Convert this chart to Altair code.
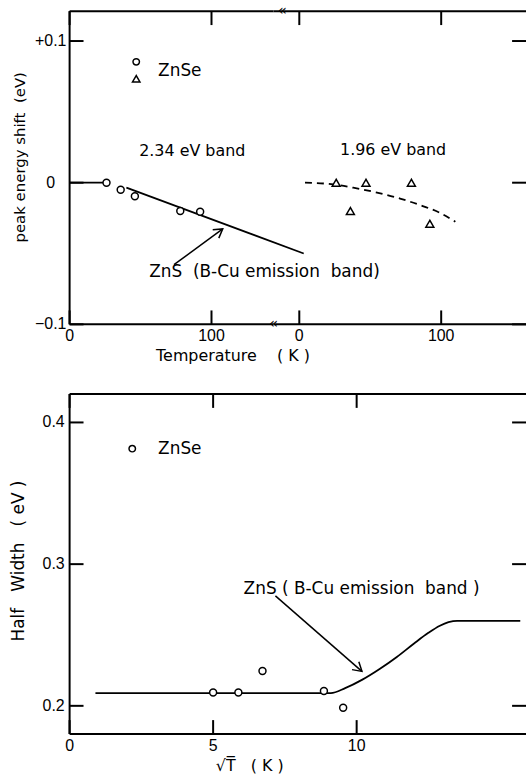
import altair as alt
import pandas as pd

# ---------------- data ----------------
# Upper panel: 2.34 eV band of ZnSe (circles), peak energy shift vs T
band234_T = [26, 36, 46, 78, 92]
band234_shift = [0.0, -0.005, -0.0095, -0.020, -0.0205]
# ZnS (B-Cu emission band) solid line, two pieces
zns_T = [0, 26, 40, 165]
zns_shift = [0.0, 0.0, -0.0035, -0.050]
zns_piece = ["p1", "p1", "p2", "p2"]
# 1.96 eV band of ZnSe (triangles)
band196_T = [26, 36, 47, 79, 92]
band196_shift = [0.0, -0.020, 0.0, 0.0, -0.029]
# dashed guide through the 1.96 eV band
guide196_T = [4, 24, 38, 54, 71, 87, 99, 110]
guide196_shift = [0.0, -0.0012, -0.0035, -0.0068, -0.0112, -0.0165, -0.0212, -0.0276]

# Lower panel: half width vs sqrt(T)
hw_sqrtT = [5.0, 5.88, 6.72, 8.86, 9.53]
hw_eV = [0.2094, 0.2094, 0.2246, 0.2105, 0.1986]
# ZnS (B-Cu emission band) curve
znshw_sqrtT = [0.9, 9.1, 9.6, 10.2, 10.8, 11.4, 12.0, 12.5, 12.9, 13.2, 13.5, 15.7]
znshw_eV = [0.209, 0.209, 0.2125, 0.2185, 0.226, 0.2345, 0.244, 0.2515, 0.2565, 0.259, 0.26, 0.26]

# tick values / labels
top_y_values = [0.1, 0.0, -0.1]
top_y_labels = ["+0.1", "0", "\u22120.1"]
top_x_values = [0, 100]
top_x_labels = ["0", "100"]
bot_y_values = [0.2, 0.3, 0.4]
bot_y_labels = ["0.2", "0.3", "0.4"]
bot_x_values = [0, 5, 10]
bot_x_labels = ["0", "5", "10"]

# ---------------- layout / style ----------------
FONT = "DejaVu Sans"
TFONT = "Liberation Sans"
NB = "\u00a0"
TICK = 14
PX_PER_K = 1.427
WL, WR, HT = 205, 254, 315
WB, HB = 459, 342
ZERO2 = 26  # px from the axis break to the second zero

xL_scale = alt.Scale(domain=[0, WL / PX_PER_K], nice=False, zero=False)
xR_scale = alt.Scale(domain=[-ZERO2 / PX_PER_K, (WR - ZERO2) / PX_PER_K], nice=False, zero=False)
yT_scale = alt.Scale(domain=[-0.1, 0.1211], nice=False, zero=False)
xB_scale = alt.Scale(domain=[0, 15.9], nice=False, zero=False)
yB_scale = alt.Scale(domain=[0.1801, 0.4201], nice=False, zero=False)

one = pd.DataFrame({"k": [0]})


def hrule(y, x1, x2, w=2):
    return alt.Chart(one).mark_rule(color="black", strokeWidth=w).encode(
        y=alt.value(y), x=alt.value(x1), x2=alt.value(x2))


def vrule(x, y1, y2, w=2):
    return alt.Chart(one).mark_rule(color="black", strokeWidth=w).encode(
        x=alt.value(x), y=alt.value(y1), y2=alt.value(y2))


def yticks(values, scale, x1, x2):
    return alt.Chart(pd.DataFrame({"v": values})).mark_rule(color="black", strokeWidth=2).encode(
        y=alt.Y("v:Q", scale=scale, axis=None), x=alt.value(x1), x2=alt.value(x2))


def xticks(values, scale, y1, y2):
    return alt.Chart(pd.DataFrame({"v": values})).mark_rule(color="black", strokeWidth=2).encode(
        x=alt.X("v:Q", scale=scale, axis=None), y=alt.value(y1), y2=alt.value(y2))


def xlabels(values, labels, scale, y):
    return alt.Chart(pd.DataFrame({"v": values, "lab": labels})).mark_text(
        font=TFONT, fontSize=16, align="center", baseline="middle", color="black").encode(
        x=alt.X("v:Q", scale=scale, axis=None), y=alt.value(y), text="lab:N")


def ylabels(values, labels, scale, x, align):
    return alt.Chart(pd.DataFrame({"v": values, "lab": labels})).mark_text(
        font=TFONT, fontSize=16, align=align, baseline="middle", color="black").encode(
        y=alt.Y("v:Q", scale=scale, axis=None), x=alt.value(x), text="lab:N")


def text(s, x, y, size=17, align="left", angle=0, font=FONT):
    return alt.Chart(one).mark_text(text=s, align=align, baseline="middle", font=font,
                                    fontSize=size, color="black", angle=angle).encode(
        x=alt.value(x), y=alt.value(y))


def arrow(x1, y1, x2, y2, ang):
    shaft = alt.Chart(one).mark_rule(color="black", strokeWidth=1.5).encode(
        x=alt.value(x1), y=alt.value(y1), x2=alt.value(x2), y2=alt.value(y2))
    head = alt.Chart(one).mark_point(shape="M -1 -0.6 L 0 0 L -1 0.6", angle=ang, size=300,
                                     filled=False, stroke="black", strokeWidth=1.5,
                                     opacity=1).encode(x=alt.value(x2), y=alt.value(y2))
    return shaft + head


def symbol(shape, x, y, size):
    return alt.Chart(one).mark_point(shape=shape, filled=True, fill="white", stroke="black",
                                     strokeWidth=1.5, size=size, opacity=1).encode(
        x=alt.value(x), y=alt.value(y))


# ---------------- upper panel, left part (2.34 eV band) ----------------
df234 = pd.DataFrame({"T": band234_T, "shift": band234_shift})
dfzns = pd.DataFrame({"T": zns_T, "shift": zns_shift, "piece": zns_piece})

zns_line = alt.Chart(dfzns).mark_line(color="black", strokeWidth=1.8).encode(
    x=alt.X("T:Q", scale=xL_scale, axis=None),
    y=alt.Y("shift:Q", scale=yT_scale, axis=None),
    detail="piece:N")
circ234 = alt.Chart(df234).mark_point(shape="circle", filled=True, fill="white", stroke="black",
                                      strokeWidth=1.5, size=49, opacity=1).encode(
    x=alt.X("T:Q", scale=xL_scale, axis=None),
    y=alt.Y("shift:Q", scale=yT_scale, axis=None))

top_left = alt.layer(
    vrule(0, 0, HT), hrule(0, 0, WL), hrule(HT, 0, WL),
    yticks(top_y_values, yT_scale, 0, TICK),
    xticks(top_x_values, xL_scale, 0, TICK),
    xticks(top_x_values, xL_scale, HT - TICK, HT),
    ylabels(top_y_values, top_y_labels, yT_scale, -19, "center"),
    xlabels(top_x_values, top_x_labels, xL_scale, HT + 12),
    zns_line, circ234,
    symbol("circle", 67, 51, 42), symbol("triangle-up", 67, 68, 56),
    text("ZnSe", 89, 60),
    text("2.34 eV band", 70, 141, size=16),
    text(f"ZnS{NB}{NB}(B-Cu emission{NB}{NB}band)", 80, 262),
    arrow(105, 255, 154, 219, 324),
    text(f"Temperature{NB}{NB}{NB}{NB}({NB}K{NB})", 87, 347, size=16),
    text(f"peak energy shift{NB}{NB}(eV)", -50, 147, size=15, angle=270, align="center"),
).properties(width=WL, height=HT)

# ---------------- upper panel, right part (1.96 eV band) ----------------
df196 = pd.DataFrame({"T": band196_T, "shift": band196_shift})
dfg = pd.DataFrame({"T": guide196_T, "shift": guide196_shift})

guide = alt.Chart(dfg).mark_line(color="black", strokeWidth=1.8, strokeDash=[7, 5],
                                 interpolate="monotone").encode(
    x=alt.X("T:Q", scale=xR_scale, axis=None),
    y=alt.Y("shift:Q", scale=yT_scale, axis=None))
tri196 = alt.Chart(df196).mark_point(shape="triangle-up", filled=True, fill="white",
                                     stroke="black", strokeWidth=1.5, size=64, opacity=1).encode(
    x=alt.X("T:Q", scale=xR_scale, axis=None),
    y=alt.Y("shift:Q", scale=yT_scale, axis=None))

top_right = alt.layer(
    hrule(0, 0, WR), hrule(HT, 0, WR),
    yticks(top_y_values, yT_scale, WR - TICK, WR),
    xticks(top_x_values, xR_scale, 0, TICK),
    xticks(top_x_values, xR_scale, HT - TICK, HT),
    xlabels(top_x_values, top_x_labels, xR_scale, HT + 12),
    guide, tri196,
    text("1.96 eV band", 67, 140, size=16),
    text("\u00ab", 9, -1, size=15, align="center"),
    text("\u00ab", 0, HT - 1, size=15, align="center"),
).properties(width=WR, height=HT)

top = alt.hconcat(top_left, top_right, spacing=0, bounds="flush")

# ---------------- lower panel ----------------
dfhw = pd.DataFrame({"s": hw_sqrtT, "hw": hw_eV})
dfzhw = pd.DataFrame({"s": znshw_sqrtT, "hw": znshw_eV})

zhw_line = alt.Chart(dfzhw).mark_line(color="black", strokeWidth=1.8, interpolate="monotone").encode(
    x=alt.X("s:Q", scale=xB_scale, axis=None),
    y=alt.Y("hw:Q", scale=yB_scale, axis=None))
hw_circ = alt.Chart(dfhw).mark_point(shape="circle", filled=True, fill="white", stroke="black",
                                     strokeWidth=1.5, size=49, opacity=1).encode(
    x=alt.X("s:Q", scale=xB_scale, axis=None),
    y=alt.Y("hw:Q", scale=yB_scale, axis=None))

bottom = alt.layer(
    vrule(0, 0, HB), hrule(0, 0, WB), hrule(HB, 0, WB),
    yticks(bot_y_values, yB_scale, 0, TICK),
    yticks(bot_y_values, yB_scale, WB - TICK, WB),
    xticks(bot_x_values, xB_scale, 0, TICK),
    xticks(bot_x_values, xB_scale, HB - TICK, HB),
    ylabels(bot_y_values, bot_y_labels, yB_scale, -5, "right"),
    xlabels(bot_x_values, bot_x_labels, xB_scale, HB + 12),
    zhw_line, hw_circ,
    symbol("circle", 63, 55, 42),
    text("ZnSe", 89, 55),
    text(f"ZnS{NB}({NB}B-Cu emission{NB}{NB}band{NB})", 175, 196),
    arrow(207, 203, 294, 279, 41),
    text(f"\u221aT\u0305{NB}{NB}{NB}({NB}K{NB})", 147, 374, size=16),
    text(f"Half{NB}{NB}{NB}Width{NB}{NB}{NB}({NB}eV{NB})", -51, 168, size=17, angle=270,
         align="center"),
).properties(width=WB, height=HB)

chart = alt.vconcat(top, bottom, spacing=29).configure_view(stroke=None).properties(
    padding={"left": 10, "top": 1, "right": 0, "bottom": 0})

chart.save("out.html", embed_options={"renderer": "svg", "actions": False})
